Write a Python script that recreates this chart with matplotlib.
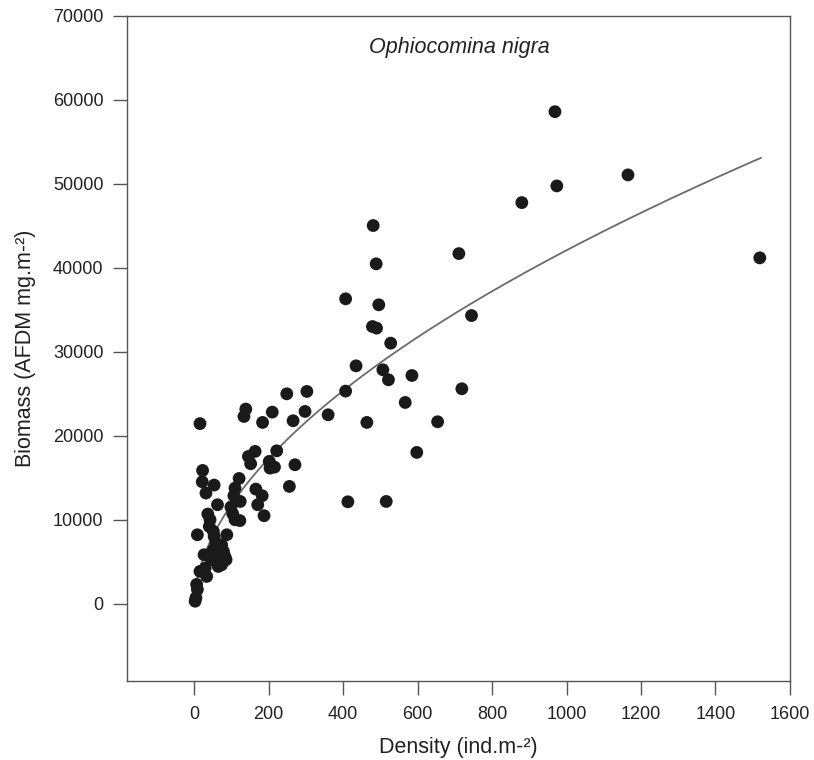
import numpy as np
import matplotlib.pyplot as plt

plt.rcParams['font.family'] = ['Liberation Sans', 'DejaVu Sans']

# Density (ind.m-2) and biomass (AFDM mg.m-2)
density = [3, 5, 9, 7, 16, 30, 34, 27, 38, 47, 70, 65, 74, 54, 59, 65, 52, 74,
           79, 83, 86, 9, 88, 37, 43, 41, 52, 99, 104, 110, 123, 188, 63, 171,
           107, 124, 166, 183, 256, 121, 110, 23, 22, 54, 32, 164, 146, 152,
           222, 202, 216, 204, 271, 16,
           139, 134, 210, 184, 249, 303, 266, 298, 360, 407, 464, 413, 516,
           598, 654, 567, 719, 585, 522, 507, 435, 528, 479, 490, 745, 496,
           407, 489, 711, 481,
           880, 969, 974, 1165, 1519]
biomass = [300, 700, 1700, 2300, 3850, 4250, 3250, 5830, 5710, 5240, 5240,
           4440, 4640, 8010, 7230, 6900, 6430, 7020, 6230, 5630, 5240, 8210,
           8210, 10680, 10000, 9200, 8610, 11510, 10710, 10000, 9900, 10480,
           11790, 11790, 12860, 12180, 13650, 12860, 13970, 14920, 13770,
           15870, 14520, 14130, 13180, 18140, 17540, 16670, 18210, 16950,
           16270, 16150, 16550, 21450,
           23180, 22300, 22820, 21590, 25000, 25280, 21790, 22900, 22500,
           25320, 21590, 12140, 12180, 18020, 21670, 23970, 25600, 27180,
           26670, 27860, 28330, 31030, 33010, 32820, 34320, 35600, 36310,
           40480, 41700, 45040,
           47770, 58600, 49760, 51070, 41190]

# power fit B = a * D^b
fit_a = 923
fit_b = 0.553
fit_xmax = 1522

x_ticks = list(range(0, 1601, 200))
y_ticks = list(range(0, 70001, 10000))

fig = plt.figure(figsize=(8.14, 7.6), dpi=100)
ax = fig.add_axes([0.156, 0.104, 0.8145, 0.875])

xs = np.linspace(0, fit_xmax, 400)
ax.plot(xs, fit_a * xs ** fit_b, color='#6b6b6b', lw=1.3, zorder=2)
ax.scatter(density, biomass, s=85, color='#1a1a1a', edgecolors='none', zorder=3)

ax.set_xlim(-180, 1600)
ax.set_ylim(-9200, 70000)
ax.set_xticks(x_ticks)
ax.set_yticks(y_ticks)
ax.tick_params(direction='out', length=10, width=1, color='#555555',
               labelsize=13, labelcolor='#222222')
ax.tick_params(axis='y', pad=7)
ax.tick_params(axis='x', pad=8)
for sp in ax.spines.values():
    sp.set_color('#555555')
    sp.set_linewidth(1)

ax.set_xlabel('Density (ind.m-²)', fontsize=15.5, color='#222222', labelpad=10)
ax.set_ylabel('Biomass (AFDM mg.m-²)', fontsize=15.5, color='#222222', labelpad=12)
ax.text(0.502, 0.953, 'Ophiocomina nigra', transform=ax.transAxes,
        ha='center', va='center', style='italic', fontsize=15.5, color='#222222')

fig.savefig('out.png', dpi=100)
